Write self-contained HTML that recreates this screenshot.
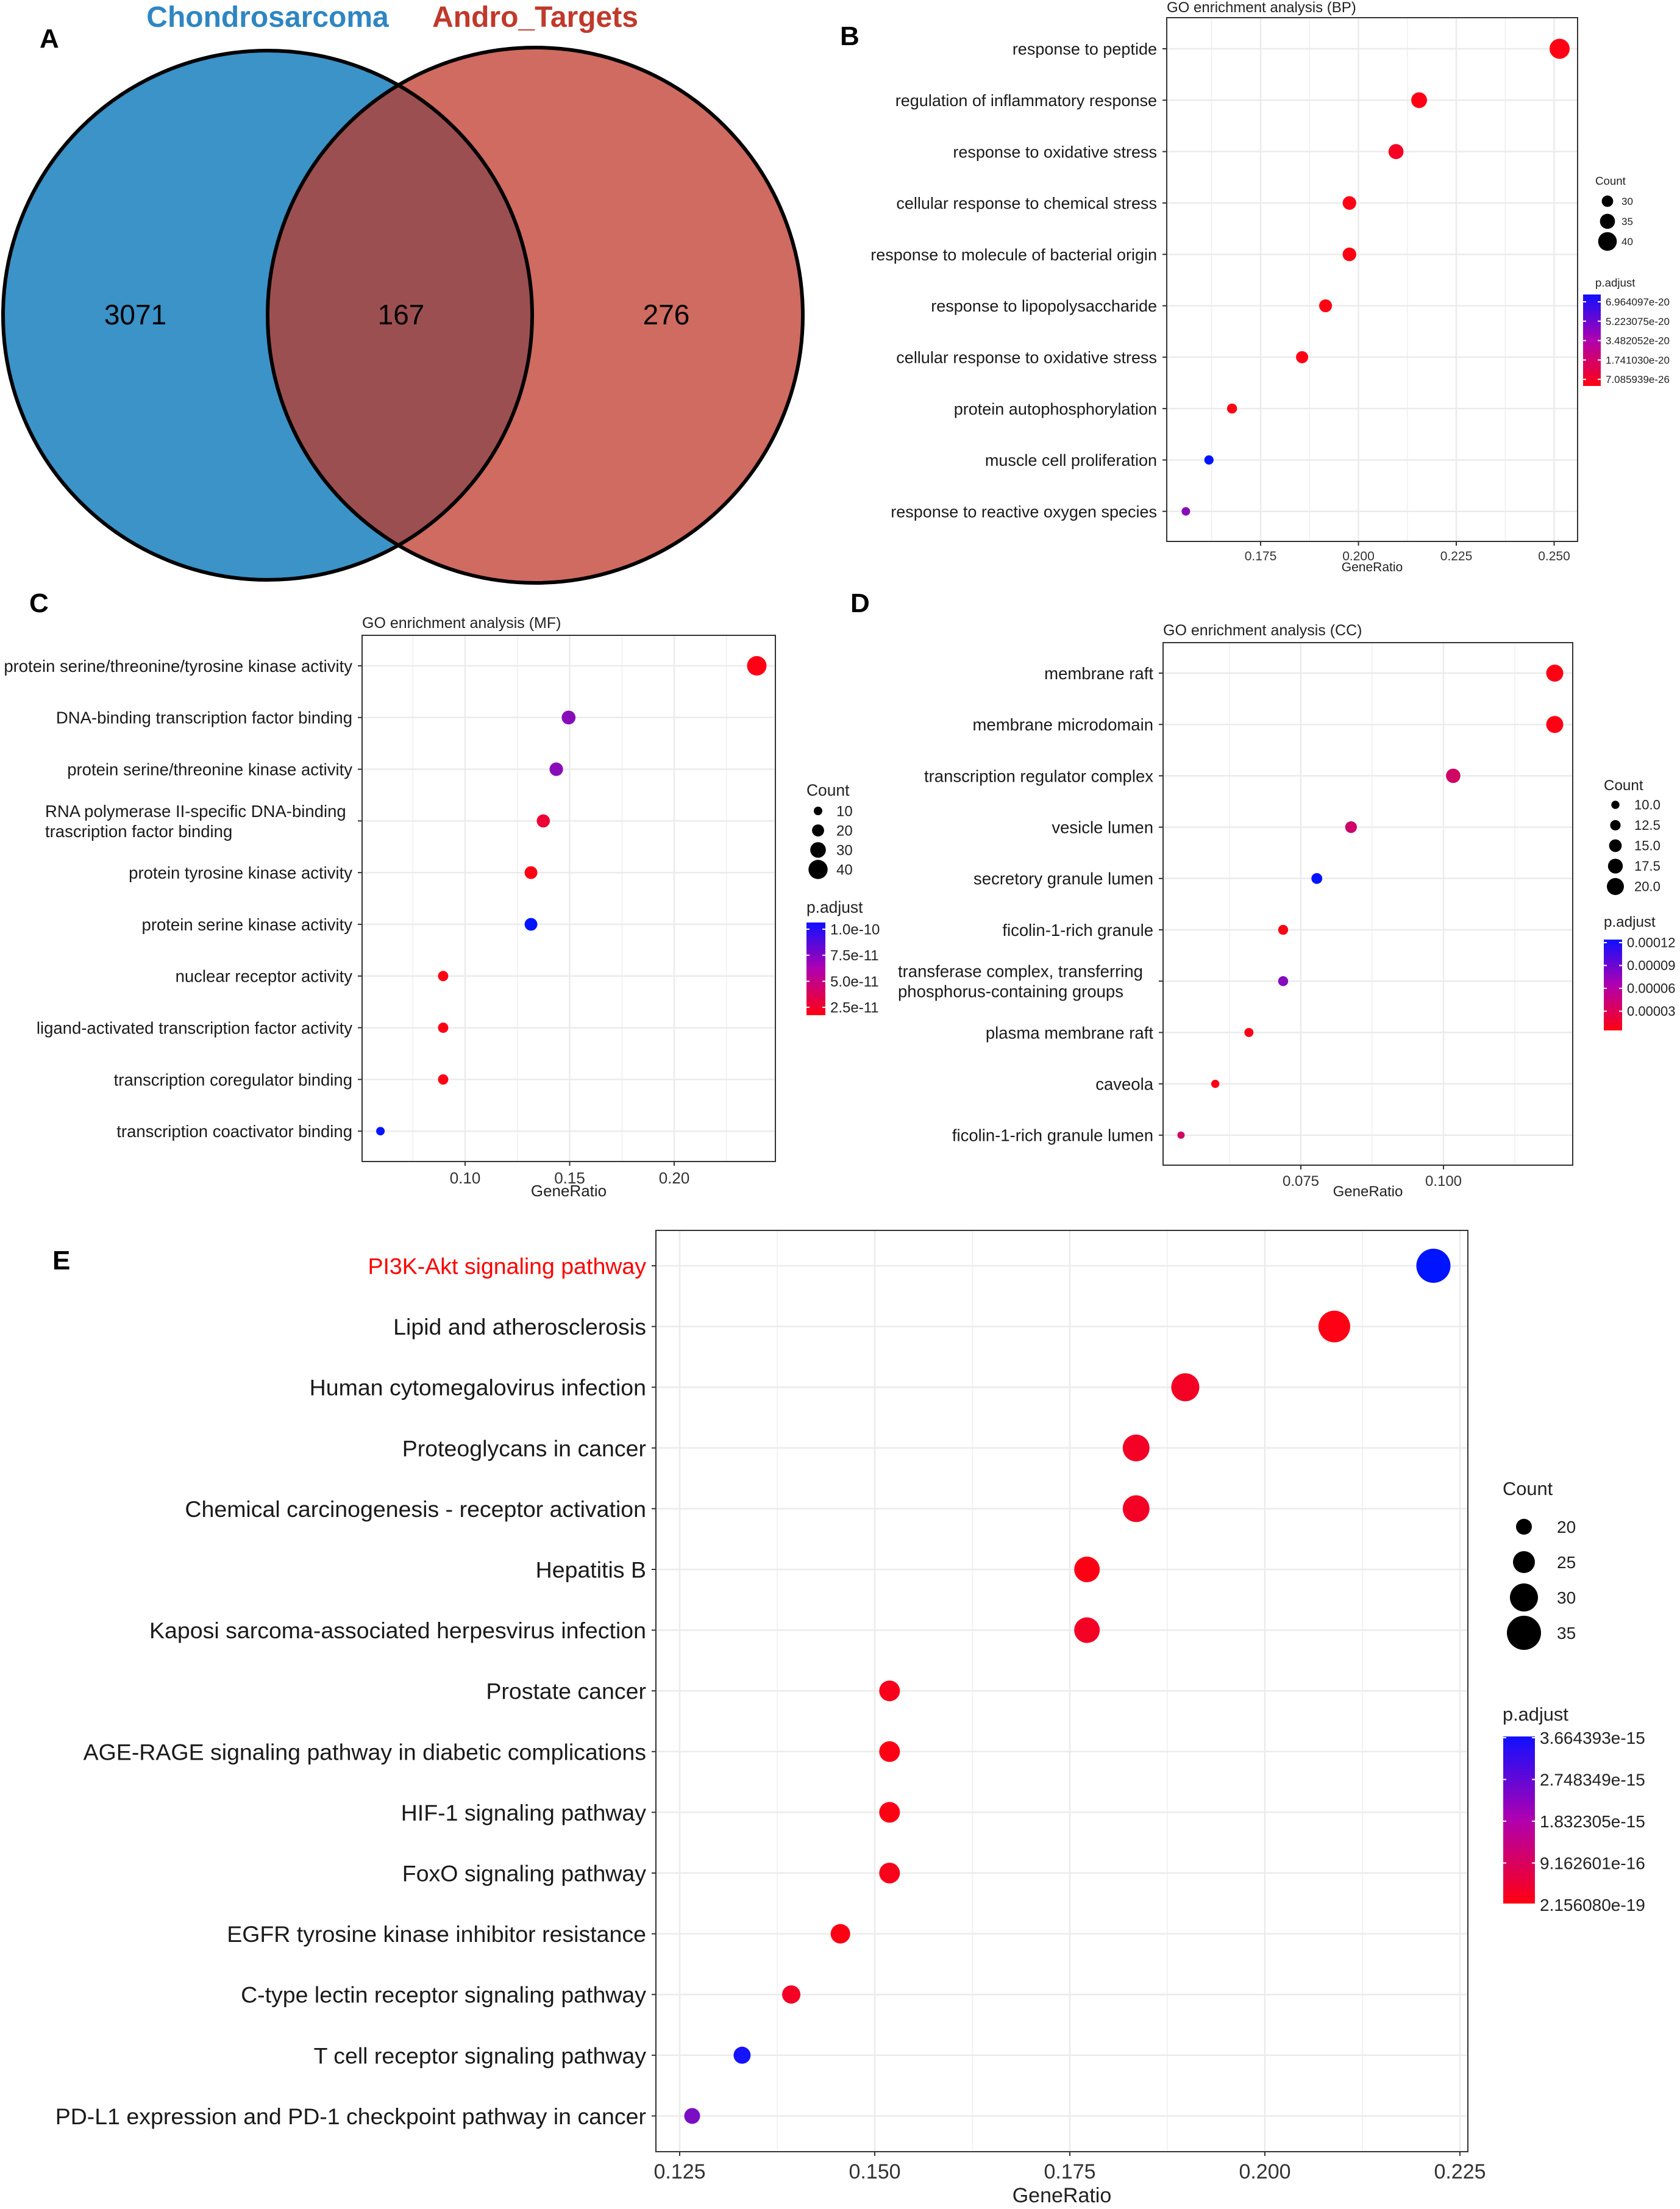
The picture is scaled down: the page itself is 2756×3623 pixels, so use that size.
<!DOCTYPE html>
<html><head><meta charset="utf-8"><style>
html,body{margin:0;padding:0;background:#fff}
svg{display:block;font-family:"Liberation Sans",Arial,sans-serif}
</style></head><body>
<svg id="fig" width="2756" height="3623" viewBox="0 0 2756 3623" xmlns="http://www.w3.org/2000/svg">
<defs>
<linearGradient id="cb" x1="0" y1="0" x2="0" y2="1"><stop offset="0" stop-color="#1010ff"/><stop offset="0.5" stop-color="#b000b0"/><stop offset="1" stop-color="#ff0010"/></linearGradient>
</defs>
<g>
<text x="65" y="78" font-size="44" font-weight="bold">A</text>
<circle cx="439" cy="517" r="434" fill="#3b93c8"/>
<circle cx="878" cy="517" r="439" fill="#cf6b60"/>
<clipPath id="lc"><circle cx="439" cy="517" r="434"/></clipPath>
<circle cx="878" cy="517" r="439" fill="#9c4f51" clip-path="url(#lc)"/>
<circle cx="439" cy="517" r="434" fill="none" stroke="#000" stroke-width="6"/>
<circle cx="878" cy="517" r="439" fill="none" stroke="#000" stroke-width="6"/>
<text x="439" y="44" font-size="48" font-weight="bold" fill="#2e86c1" text-anchor="middle">Chondrosarcoma</text>
<text x="878" y="44" font-size="48" font-weight="bold" fill="#c0392b" text-anchor="middle">Andro_Targets</text>
<text x="222" y="532" font-size="46" text-anchor="middle">3071</text>
<text x="658" y="532" font-size="46" text-anchor="middle">167</text>
<text x="1093" y="532" font-size="46" text-anchor="middle">276</text>
</g>
<text x="1378" y="74" font-size="44" font-weight="bold">B</text>
<text x="48" y="1004" font-size="44" font-weight="bold">C</text>
<text x="1395" y="1004" font-size="44" font-weight="bold">D</text>
<text x="86" y="2082" font-size="44" font-weight="bold">E</text>
</svg>
<script>
// ---- Panel B data ----
const bpTerms=["response to peptide","regulation of inflammatory response","response to oxidative stress","cellular response to chemical stress","response to molecule of bacterial origin","response to lipopolysaccharide","cellular response to oxidative stress","protein autophosphorylation","muscle cell proliferation","response to reactive oxygen species"];
const bpRatio=[0.2514,0.2155,0.2096,0.1977,0.1977,0.1916,0.1856,0.1677,0.1618,0.1559];
const bpCount=[42,36,35,33,33,32,31,28,27,26];
const bpP=[1e-21,1e-21,6e-21,1e-21,3e-21,1e-21,1e-21,1e-21,6.96e-20,4.6e-20];
const bpTicks=[0.175,0.200,0.225,0.250];
const bpTickLabels=["0.175","0.200","0.225","0.250"];
const bpCountLegend=[30,35,40];
const bpPLabels=["6.964097e-20","5.223075e-20","3.482052e-20","1.741030e-20","7.085939e-26"];
// ---- Panel C data ----
const mfTerms=["protein serine/threonine/tyrosine kinase activity","DNA-binding transcription factor binding","protein serine/threonine kinase activity","RNA polymerase II-specific DNA-binding|trascription factor binding","protein tyrosine kinase activity","protein serine kinase activity","nuclear receptor activity","ligand-activated transcription factor activity","transcription coregulator binding","transcription coactivator binding"];
const mfRatio=[0.2395,0.1495,0.1436,0.1374,0.1315,0.1315,0.0895,0.0895,0.0895,0.0595];
const mfCount=[41,25,24,23,22,22,15,15,15,10];
const mfP=[2.2e-11,7.6e-11,7.6e-11,3.2e-11,2.3e-11,1.05e-10,2.2e-11,2.2e-11,2.2e-11,1.05e-10];
const mfTicks=[0.10,0.15,0.20];
const mfTickLabels=["0.10","0.15","0.20"];
const mfCountLegend=[10,20,30,40];
const mfPLabels=["1.0e-10","7.5e-11","5.0e-11","2.5e-11"];
// ---- Panel D data ----
const ccTerms=["membrane raft","membrane microdomain","transcription regulator complex","vesicle lumen","secretory granule lumen","ficolin-1-rich granule","transferase complex, transferring|phosphorus-containing groups","plasma membrane raft","caveola","ficolin-1-rich granule lumen"];
const ccRatio=[0.1195,0.1195,0.1017,0.0838,0.0778,0.0719,0.0719,0.0659,0.0600,0.0540];
const ccCount=[20,20,17,14,13,12,12,11,10,9];
const ccP=[1e-6,1e-6,3.5e-5,3.8e-5,1.2e-4,3e-6,8e-5,2e-6,1e-6,3.5e-5];
const ccTicks=[0.075,0.100];
const ccTickLabels=["0.075","0.100"];
const ccCountLegend=[10.0,12.5,15.0,17.5,20.0];
const ccPLabels=["0.00012","0.00009","0.00006","0.00003"];
// ---- Panel E data ----
const keggTerms=["PI3K-Akt signaling pathway","Lipid and atherosclerosis","Human cytomegalovirus infection","Proteoglycans in cancer","Chemical carcinogenesis - receptor activation","Hepatitis B","Kaposi sarcoma-associated herpesvirus infection","Prostate cancer","AGE-RAGE signaling pathway in diabetic complications","HIF-1 signaling pathway","FoxO signaling pathway","EGFR tyrosine kinase inhibitor resistance","C-type lectin receptor signaling pathway","T cell receptor signaling pathway","PD-L1 expression and PD-1 checkpoint pathway in cancer"];
const keggRatio=[0.2216,0.2089,0.1898,0.1835,0.1835,0.1772,0.1772,0.1519,0.1519,0.1519,0.1519,0.1456,0.1393,0.1330,0.1266];
const keggCount=[35,33,30,29,29,28,28,24,24,24,24,23,22,21,20];
const keggP=[3.66e-15,2e-17,3e-16,3e-16,3e-16,5e-17,3e-16,2e-16,1e-16,1e-16,2e-16,1e-16,3e-16,3.6e-15,2.6e-15];
const keggTicks=[0.125,0.150,0.175,0.200,0.225];
const keggTickLabels=["0.125","0.150","0.175","0.200","0.225"];
const keggCountLegend=[20,25,30,35];
const keggPLabels=["3.664393e-15","2.748349e-15","1.832305e-15","9.162601e-16","2.156080e-19"];

const NS="http://www.w3.org/2000/svg";
const svg=document.getElementById('fig');
function mk(tag,attrs,parent){const e=document.createElementNS(NS,tag);for(const k in attrs)e.setAttribute(k,attrs[k]);(parent||svg).appendChild(e);return e;}
function pcol(t){t=Math.max(0,Math.min(1,t));const r=Math.round(255*Math.pow(1-t,0.6)),b=Math.round(255*Math.pow(t,0.75)),gch=Math.round(20*t);return `rgb(${r},${gch},${Math.max(b,Math.round(20*(1-t)))})`;}

function dotPlot(cfg,terms,ratio,count,pvals,ticks,tickLabels,countLeg,pLabels){
  const g=mk('g',{});
  
  
  const xs=v=>cfg.x0+(v-ticks[0])/(ticks[1]-ticks[0])*cfg.tickStep;
  const ys=i=>cfg.row0+i*cfg.rowStep;
  const cmin=Math.min(...count),cmax=Math.max(...count);
  const rs=c=>cfg.rmin+(cfg.rmax-cfg.rmin)*(c-cmin)/((cmax-cmin)||1);
  const pmin=Math.min(...pvals),pmax=cfg.pmax;
  const t=mk('text',{x:cfg.L,y:cfg.titleY,'font-size':cfg.titleFs,fill:'#222'},g);t.textContent=cfg.title;
  
  
  const half=(ticks[1]-ticks[0])/2;
  for(let v=ticks[0]-4*half;v<=ticks[ticks.length-1]+4*half;v+=half){
    const x=xs(v);if(x<=cfg.L||x>=cfg.R)continue;
    const major=Math.abs(Math.round((v-ticks[0])/half))%2===0;
    mk('line',{x1:x,x2:x,y1:cfg.T,y2:cfg.B,stroke:'#ebebeb','stroke-width':major?2.5:1.2},g);
  }
  terms.forEach((_,i)=>mk('line',{x1:cfg.L,x2:cfg.R,y1:ys(i),y2:ys(i),stroke:'#ebebeb','stroke-width':2.5},g));
  const box=mk('rect',{x:cfg.L,y:cfg.T,width:cfg.R-cfg.L,height:cfg.B-cfg.T,fill:'none',stroke:'#333','stroke-width':2},g);
  
  
  terms.forEach((term,i)=>{
    mk('line',{x1:cfg.L-7,x2:cfg.L,y1:ys(i),y2:ys(i),stroke:'#333','stroke-width':2},g);
    const parts=term.split('|');
    if(parts.length===1){
      const tx=mk('text',{x:cfg.L-16,y:ys(i)+cfg.fs*0.36,'font-size':cfg.fs,'text-anchor':'end',fill:(cfg.highlight===i?'#ff0000':'#1a1a1a')},g);tx.textContent=term;
      
      
    } else {
      parts.forEach((p,k)=>{const tx=mk('text',{x:cfg.multiX,y:ys(i)+cfg.fs*0.36+(k-0.5)*cfg.fs*1.2,'font-size':cfg.fs,fill:'#1a1a1a'},g);tx.textContent=p;
        
        });
    }
  });
  ticks.forEach((v,k)=>{
    mk('line',{x1:xs(v),x2:xs(v),y1:cfg.B,y2:cfg.B+7,stroke:'#333','stroke-width':2},g);
    const tx=mk('text',{x:xs(v),y:cfg.B+cfg.tfs+10,'font-size':cfg.tfs,'text-anchor':'middle',fill:'#333'},g);tx.textContent=tickLabels[k];
    
    
  });
  const xt=mk('text',{x:(cfg.L+cfg.R)/2,y:cfg.xTitleY,'font-size':cfg.tfs,'text-anchor':'middle',fill:'#222'},g);xt.textContent='GeneRatio';
  
  
  terms.forEach((_,i)=>{
    const c=mk('circle',{cx:xs(ratio[i]),cy:ys(i),r:rs(count[i]),fill:pcol((pvals[i]-pmin)/(pmax-pmin))},g);
    
    
  });
  const lg=cfg.leg;
  const ct=mk('text',{x:lg.x,y:lg.countY,'font-size':lg.fs*1.1,fill:'#222'},g);ct.textContent='Count';
  
  
  countLeg.forEach((c,k)=>{
    const y=lg.dotY[0]+k*lg.dotStep;
    const d=mk('circle',{cx:lg.dotX,cy:y,r:rs(c),fill:'#000'},g);
    
    
    const tx=mk('text',{x:lg.labX,y:y+lg.fs*0.35,'font-size':lg.fs,fill:'#222'},g);tx.textContent=(cfg.dec?c.toFixed(1):c);
    
    
  });
  const pt=mk('text',{x:lg.x,y:lg.pY,'font-size':lg.fs*1.1,fill:'#222'},g);pt.textContent='p.adjust';
  
  
  const bar=mk('rect',{x:lg.barX,y:lg.barT,width:lg.barW,height:lg.barB-lg.barT,fill:'url(#cb)'},g);
  
  
  pLabels.forEach((l,k)=>{
    const y=lg.labT+k*lg.labStep;
    mk('line',{x1:lg.barX,x2:lg.barX+5,y1:y,y2:y,stroke:'#fff','stroke-width':2},g);
    mk('line',{x1:lg.barX+lg.barW-5,x2:lg.barX+lg.barW,y1:y,y2:y,stroke:'#fff','stroke-width':2},g);
    const tx=mk('text',{x:lg.barX+lg.barW+8,y:y+lg.fs*0.35,'font-size':lg.fs,fill:'#222'},g);tx.textContent=l;
    
    
  });
}

dotPlot({name:'go-bp-chart',title:'GO enrichment analysis (BP)',titleY:20,titleFs:24,L:1914,R:2588,T:29,B:888,x0:2068,tickStep:160.5,row0:80,rowStep:84.3,rmin:7,rmax:16.5,pmax:6.96e-20,fs:27,tfs:21,xTitleY:937,
  leg:{x:2617,countY:303,dotX:2637,dotY:[330],dotStep:33,labX:2660,fs:17,pY:470,barX:2597,barW:29,barT:483,barB:633,labT:495,labStep:31.8}},
  bpTerms,bpRatio,bpCount,bpP,bpTicks,bpTickLabels,bpCountLegend,bpPLabels);

dotPlot({name:'go-mf-chart',title:'GO enrichment analysis (MF)',titleY:1030,titleFs:25,L:594,R:1272,T:1042,B:1905,x0:763,tickStep:171.5,row0:1092,rowStep:84.8,rmin:7,rmax:16,pmax:1.05e-10,fs:27.5,tfs:26,xTitleY:1962,multiX:74,
  leg:{x:1323,countY:1305,dotX:1342,dotY:[1330],dotStep:32,labX:1372,fs:24,pY:1497,barX:1323,barW:31,barT:1513,barB:1665,labT:1524,labStep:42.7}},
  mfTerms,mfRatio,mfCount,mfP,mfTicks,mfTickLabels,mfCountLegend,mfPLabels);

dotPlot({name:'go-cc-chart',title:'GO enrichment analysis (CC)',titleY:1042,titleFs:25,L:1908,R:2580,T:1054,B:1911,x0:2134,tickStep:234,row0:1104,rowStep:84.2,rmin:6,rmax:14,pmax:1.2e-4,fs:27.5,tfs:24,xTitleY:1962,multiX:1473,dec:true,
  leg:{x:2631,countY:1296,dotX:2650,dotY:[1320],dotStep:33.5,labX:2681,fs:22,pY:1520,barX:2631,barW:30,barT:1541,barB:1690,labT:1546,labStep:37.5}},
  ccTerms,ccRatio,ccCount,ccP,ccTicks,ccTickLabels,ccCountLegend,ccPLabels);

dotPlot({name:'kegg-chart',title:'',titleY:2000,titleFs:24,L:1076,R:2408,T:2018,B:3529,x0:1115,tickStep:320,row0:2076,rowStep:99.6,rmin:13,rmax:28,pmax:3.66e-15,fs:37.5,tfs:34,xTitleY:3612,highlight:0,
  leg:{x:2465,countY:2452,dotX:2500,dotY:[2504],dotStep:58,labX:2554,fs:28,pY:2822,barX:2466,barW:52,barT:2848,barB:3122,labT:2850,labStep:68.5}},
  keggTerms,keggRatio,keggCount,keggP,keggTicks,keggTickLabels,keggCountLegend,keggPLabels);
</script>
</body></html>
